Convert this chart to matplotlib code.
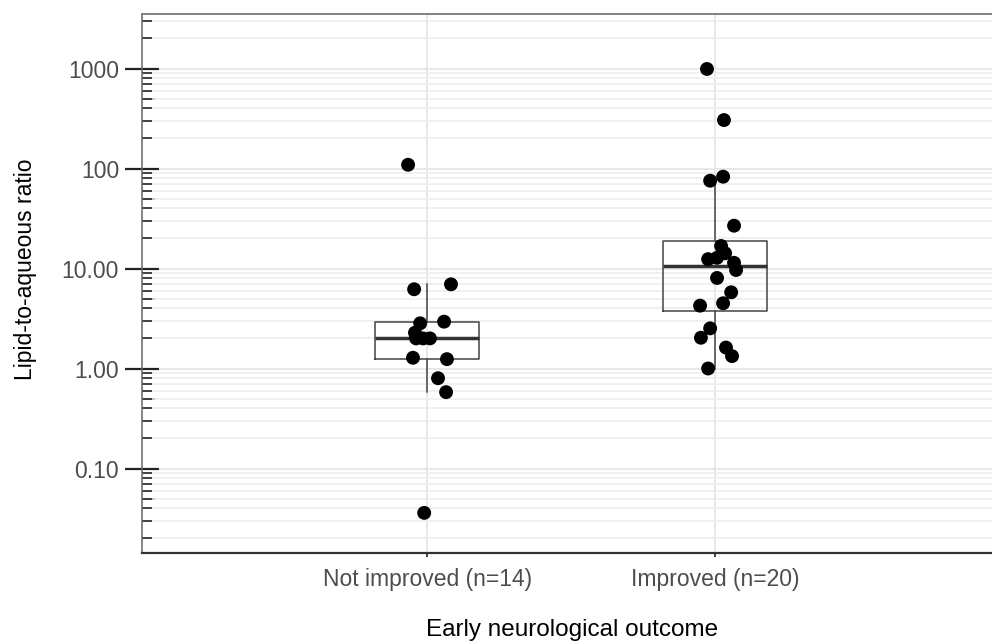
import numpy as np
import matplotlib
matplotlib.use("Agg")
import matplotlib.pyplot as plt
from matplotlib.ticker import FixedLocator, FixedFormatter, LogLocator, NullFormatter

plt.rcParams['font.family'] = ['Liberation Sans', 'DejaVu Sans']

# data
groups = ["Not improved (n=14)", "Improved (n=20)"]
not_improved = [2.83, 2.94, 2.28, 2.00, 2.00, 2.00, 1.28, 1.24, 0.80, 0.58, 6.2, 6.95, 109, 0.036]
not_improved_jit = [-0.024, 0.059, -0.042, -0.038, -0.014, 0.010, -0.049, 0.069, 0.038, 0.066,
                    -0.045, 0.083, -0.066, -0.010]
improved = [989, 305, 75.5, 82.8, 26.8, 16.8, 14.2, 12.8, 12.4, 11.4, 9.66, 8.04, 5.78, 4.49,
            4.25, 2.52, 2.03, 1.62, 1.33, 1.00]
improved_jit = [-0.028, 0.031, -0.017, 0.028, 0.066, 0.021, 0.035, 0.007, -0.024, 0.066, 0.073,
                0.007, 0.056, 0.028, -0.052, -0.017, -0.049, 0.038, 0.059, -0.024]
ytick_vals = [0.1, 1, 10, 100, 1000]
ytick_labels = ["0.10", "1.00", "10.00", "100", "1000"]


def log_stats(vals):
    # boxplot stats computed on log10 scale (like ggplot with a log10 scale)
    lv = np.log10(np.array(vals))
    q1, med, q3 = np.percentile(lv, [25, 50, 75])
    iqr = q3 - q1
    lo = lv[lv >= q1 - 1.5 * iqr].min()
    hi = lv[lv <= q3 + 1.5 * iqr].max()
    return dict(med=10 ** med, q1=10 ** q1, q3=10 ** q3, whislo=10 ** lo, whishi=10 ** hi, fliers=[])


fig = plt.figure(figsize=(9.92, 6.42), dpi=100)
W, H = 992, 642
ax = fig.add_axes([142 / W, 1 - 552.7 / H, (1003 - 142) / W, (552.7 - 14) / H])
ax.set_yscale("log")

stats = [log_stats(not_improved), log_stats(improved)]
ax.bxp(stats, positions=[1, 2], widths=0.36, showcaps=False, showfliers=False,
       boxprops=dict(color="#444444", linewidth=1.1),
       whiskerprops=dict(color="#444444", linewidth=1.1),
       medianprops=dict(color="#333333", linewidth=2.5), zorder=3)

for i, (vals, jit) in enumerate([(not_improved, not_improved_jit), (improved, improved_jit)]):
    ax.scatter(np.array(jit) + i + 1, vals, s=100, color="black", edgecolors="none", zorder=4)

ax.set_xlim(0.01, 3.0)
ax.set_ylim(10 ** (-1.842), 10 ** 3.545)

ax.yaxis.set_major_locator(FixedLocator(ytick_vals))
ax.yaxis.set_major_formatter(FixedFormatter(ytick_labels))
ax.yaxis.set_minor_locator(LogLocator(base=10, subs=(2, 3, 4, 5, 6, 7, 8, 9), numticks=20))
ax.yaxis.set_minor_formatter(NullFormatter())
ax.set_xticks([1, 2])
ax.set_xticklabels(groups)

ax.grid(True, which="major", color="#e6e6e6", linewidth=1.3, zorder=0)
ax.grid(True, which="minor", axis="y", color="#ececec", linewidth=1.1, zorder=0)
ax.set_axisbelow(True)

ax.tick_params(axis="y", which="major", direction="inout", length=25, width=1.6, color="#222222",
               labelsize=16.5, labelcolor="#4d4d4d", pad=4)
ax.tick_params(axis="y", which="minor", direction="in", length=7.2, width=1.3, color="#333333")
ax.tick_params(axis="x", which="major", direction="out", length=3, width=1.3, color="#333333",
               labelsize=16.5, labelcolor="#4d4d4d", pad=8)

# slightly longer ticks at the 5s
sec = ax.secondary_yaxis("left")
sec.set_yticks([0.05, 0.5, 5, 50, 500])
sec.yaxis.set_minor_locator(FixedLocator([]))
sec.tick_params(axis="y", which="major", direction="in", length=9.4, width=1.3, color="#333333",
                labelleft=False)
sec.spines["left"].set_visible(False)

ax.spines["right"].set_visible(False)
ax.spines["left"].set_color("#666666")
ax.spines["left"].set_linewidth(1.1)
ax.spines["bottom"].set_color("#333333")
ax.spines["bottom"].set_linewidth(1.6)
ax.spines["top"].set_color("#777777")
ax.spines["top"].set_linewidth(1.3)

ax.set_ylabel("Lipid-to-aqueous ratio", fontsize=16.5, color="black")
ax.yaxis.set_label_coords(-0.122, 0.527)
ax.set_xlabel("Early neurological outcome", fontsize=17.5, color="black", labelpad=20)

fig.savefig("out.png", dpi=100)
